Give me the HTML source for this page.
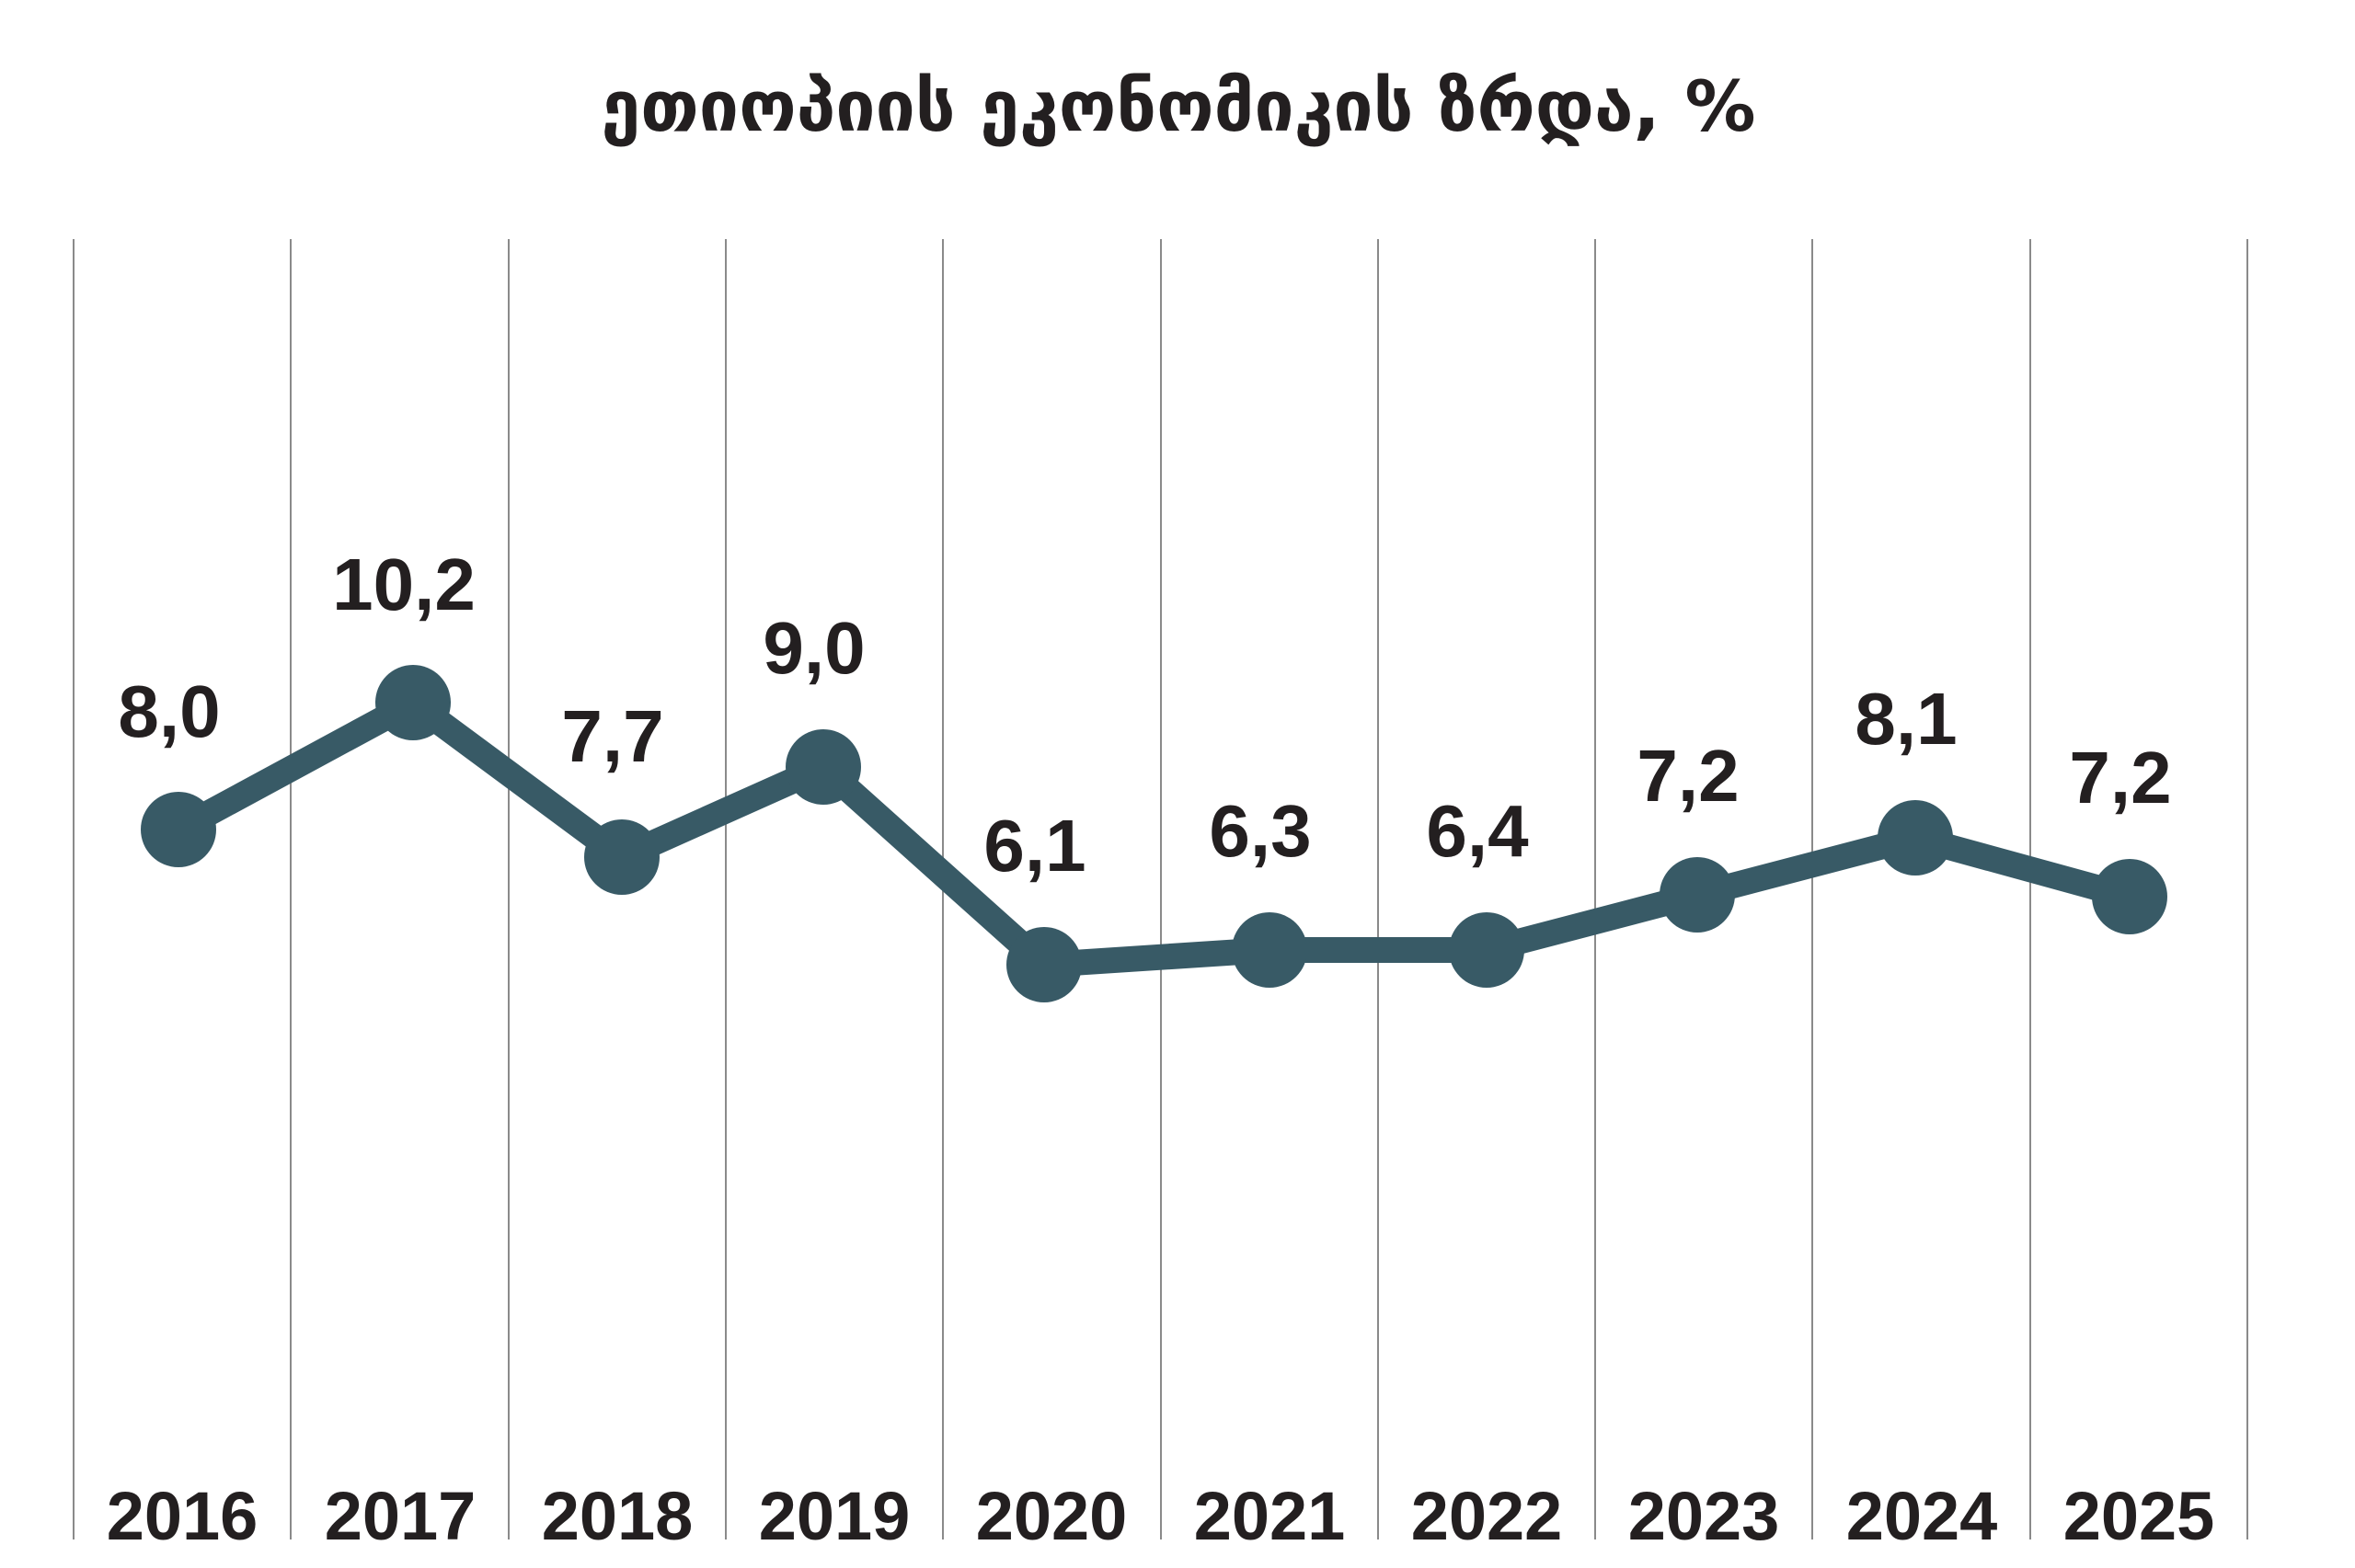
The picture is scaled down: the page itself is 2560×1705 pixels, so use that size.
<!DOCTYPE html>
<html><head><meta charset="utf-8"><style>html,body{margin:0;padding:0;background:#fff;}svg{display:block}</style></head>
<body>
<svg width="2560" height="1705" viewBox="0 0 2560 1705" xmlns="http://www.w3.org/2000/svg">
<rect width="2560" height="1705" fill="#fff"/>
<text x="1281" y="142" font-family="'DejaVu Sans', sans-serif" font-weight="bold" font-size="76" fill="#231f20" text-anchor="middle" textLength="1255" lengthAdjust="spacingAndGlyphs">ეთიოპიის ეკონომიკის ზრდა, %</text>
<g stroke="#8a8a8a" stroke-width="2">
<line x1="80" y1="260" x2="80" y2="1674"/><line x1="316" y1="260" x2="316" y2="1674"/><line x1="553" y1="260" x2="553" y2="1674"/><line x1="789" y1="260" x2="789" y2="1674"/><line x1="1025" y1="260" x2="1025" y2="1674"/><line x1="1262" y1="260" x2="1262" y2="1674"/><line x1="1498" y1="260" x2="1498" y2="1674"/><line x1="1734" y1="260" x2="1734" y2="1674"/><line x1="1970" y1="260" x2="1970" y2="1674"/><line x1="2207" y1="260" x2="2207" y2="1674"/><line x1="2443" y1="260" x2="2443" y2="1674"/>
</g>
<polyline points="194,902 449,764 676,932 895,834 1135,1049 1380,1033 1616,1033 1845,973 2082,911 2315,975" fill="none" stroke="#385a66" stroke-width="28" stroke-linejoin="miter"/>
<g fill="#385a66">
<circle cx="194" cy="902" r="41"/><circle cx="449" cy="764" r="41"/><circle cx="676" cy="932" r="41"/><circle cx="895" cy="834" r="41"/><circle cx="1135" cy="1049" r="41"/><circle cx="1380" cy="1033" r="41"/><circle cx="1616" cy="1033" r="41"/><circle cx="1845" cy="973" r="41"/><circle cx="2082" cy="911" r="41"/><circle cx="2315" cy="975" r="41"/>
</g>
<g font-family="'Liberation Sans', sans-serif" font-weight="bold" font-size="80" fill="#231f20" text-anchor="middle">
<text x="184" y="801">8,0</text><text x="439" y="663">10,2</text><text x="666" y="828">7,7</text><text x="885" y="732">9,0</text><text x="1125" y="947">6,1</text><text x="1370" y="931">6,3</text><text x="1606" y="931">6,4</text><text x="1835" y="871">7,2</text><text x="2072" y="809">8,1</text><text x="2305" y="873">7,2</text>
</g>
<g font-family="'Liberation Sans', sans-serif" font-weight="bold" font-size="74" fill="#231f20" text-anchor="middle">
<text x="198" y="1674">2016</text><text x="435" y="1674">2017</text><text x="671" y="1674">2018</text><text x="907" y="1674">2019</text><text x="1143" y="1674">2020</text><text x="1380" y="1674">2021</text><text x="1616" y="1674">2022</text><text x="1852" y="1674">2023</text><text x="2089" y="1674">2024</text><text x="2325" y="1674">2025</text>
</g>
</svg>
</body></html>
